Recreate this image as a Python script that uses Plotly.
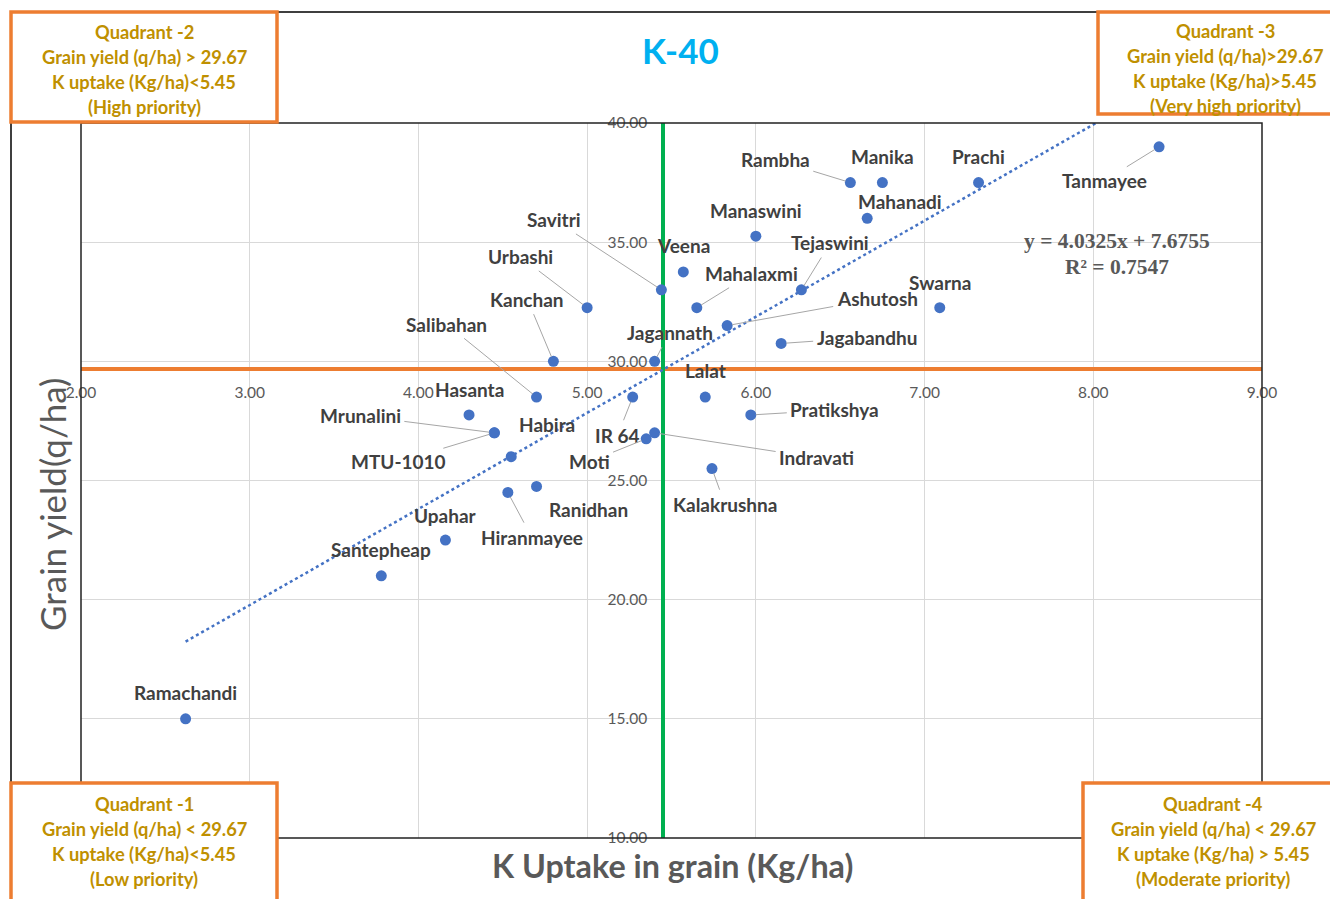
import plotly.graph_objects as go

# ---------------- data ----------------
varieties = ["Ramachandi", "Santepheap", "Upahar", "Hiranmayee", "Ranidhan", "Habira",
             "MTU-1010", "Mrunalini", "Hasanta", "Salibahan", "Kanchan", "Urbashi",
             "Savitri", "Veena", "Mahalaxmi", "Manaswini", "Jagannath", "Ashutosh",
             "Tejaswini", "Jagabandhu", "Rambha", "Manika", "Mahanadi", "Prachi",
             "Tanmayee", "Swarna", "Lalat", "IR 64", "Indravati", "Moti",
             "Pratikshya", "Kalakrushna"]
k_uptake = [2.62, 3.78, 4.16, 4.53, 4.70, 4.55,
            4.45, 4.45, 4.30, 4.70, 4.80, 5.00,
            5.44, 5.57, 5.65, 6.00, 5.40, 5.83,
            6.27, 6.15, 6.56, 6.75, 6.66, 7.32,
            8.39, 7.09, 5.70, 5.27, 5.40, 5.35,
            5.97, 5.74]
grain_yield = [15.0, 21.0, 22.5, 24.5, 24.75, 26.0,
               27.0, 27.0, 27.75, 28.5, 30.0, 32.25,
               33.0, 33.75, 32.25, 35.25, 30.0, 31.5,
               33.0, 30.75, 37.5, 37.5, 36.0, 37.5,
               39.0, 32.25, 28.5, 28.5, 27.0, 26.75,
               27.75, 25.5]

trend_slope = 4.0325
trend_intercept = 7.6755
r_squared = 0.7547
yield_threshold = 29.67
k_threshold = 5.45

x_ticks = [2, 3, 4, 5, 6, 7, 8, 9]
x_tick_labels = ["2.00", "3.00", "4.00", "5.00", "6.00", "7.00", "8.00", "9.00"]
y_ticks = [10, 15, 20, 25, 30, 35, 40]
y_tick_labels = ["10.00", "15.00", "20.00", "25.00", "30.00", "35.00", "40.00"]

quadrant_texts = {
    "Q2": ["Quadrant -2", "Grain yield (q/ha) > 29.67", "K uptake (Kg/ha)<5.45", "(High priority)"],
    "Q3": ["Quadrant -3", "Grain yield (q/ha)>29.67", "K uptake (Kg/ha)>5.45", "(Very high priority)"],
    "Q1": ["Quadrant -1", "Grain yield (q/ha) < 29.67", "K uptake (Kg/ha)<5.45", "(Low priority)"],
    "Q4": ["Quadrant -4", "Grain yield (q/ha) < 29.67", "K uptake (Kg/ha) > 5.45", "(Moderate priority)"],
}

# ---------------- layout / style (pixels) ----------------
OFF = 8                      # page body margin
W, H = 1338 - OFF, 899 - OFF
def px(x):
    return (x - OFF) / W
def py(y):
    return 1 - (y - OFF) / H

X0, X1 = 81, 1262      # plot area left/right in px (window coords)
Y0, Y1 = 123, 838      # plot area top/bottom in px (window coords)
xr = [2, 9]
yr = [10, 40]
xdom = [px(X0), px(X1)]
ydom = [py(Y1), py(Y0)]

label_offsets = {
    "Ramachandi": (0, -26), "Santepheap": (0, -26), "Upahar": (0, -25),
    "Hiranmayee": (24, 45), "Ranidhan": (52, 23), "Habira": (36, -32),
    "MTU-1010": (-96, 29), "Mrunalini": (-134, -17), "Hasanta": (0, -25),
    "Salibahan": (-90, -73), "Kanchan": (-26, -62), "Urbashi": (-67, -51),
    "Savitri": (-107, -70), "Veena": (0, -26), "Mahalaxmi": (55, -34),
    "Manaswini": (0, -26), "Jagannath": (15, -29), "Ashutosh": (150, -27),
    "Tejaswini": (29, -47), "Jagabandhu": (86, -6), "Rambha": (-75, -23),
    "Manika": (0, -26), "Mahanadi": (33, -17), "Prachi": (0, -26),
    "Tanmayee": (-55, 34), "Swarna": (0, -25), "Lalat": (0, -27),
    "IR 64": (-15, 38), "Indravati": (162, 25), "Moti": (-57, 23),
    "Pratikshya": (84, -5), "Kalakrushna": (13, 36),
}
with_leader = {"Hiranmayee", "MTU-1010", "Mrunalini", "Salibahan", "Kanchan", "Urbashi",
               "Savitri", "Mahalaxmi", "Jagannath", "Ashutosh", "Tejaswini", "Jagabandhu",
               "Rambha", "Tanmayee", "IR 64", "Indravati", "Moti", "Pratikshya", "Kalakrushna"}

LABEL_FONT = "Lato"
GOLD = "#BF9000"
ORANGE = "#ED7D31"
GREEN = "#00B050"
BLUE = "#4472C4"
GRAY = "#595959"

fig = go.Figure()

# trendline
tx = [min(k_uptake), max(k_uptake)]
ty = [trend_slope * v + trend_intercept for v in tx]
fig.add_trace(go.Scatter(x=tx, y=ty, mode="lines",
                         line=dict(color=BLUE, width=2.5, dash="dot"),
                         hoverinfo="skip", showlegend=False))

# points
fig.add_trace(go.Scatter(x=k_uptake, y=grain_yield, mode="markers",
                         marker=dict(color=BLUE, size=11),
                         text=varieties, showlegend=False))

annotations = []
for name, xv, yv in zip(varieties, k_uptake, grain_yield):
    ax, ay = label_offsets[name]
    annotations.append(dict(
        x=xv, y=yv, xref="x", yref="y", ax=ax, ay=ay, axref="pixel", ayref="pixel",
        text="<b>%s</b>" % name, showarrow=True, arrowhead=0, arrowwidth=1,
        arrowcolor="#A6A6A6" if name in with_leader else "rgba(0,0,0,0)",
        standoff=5, startstandoff=2,
        font=dict(family=LABEL_FONT, size=19, color="#404040")))

def paper_text(x, y, text, size, color, family=LABEL_FONT, angle=0):
    return dict(x=px(x), y=py(y), xref="paper", yref="paper", showarrow=False,
                xanchor="center", yanchor="middle", text=text, textangle=angle,
                font=dict(family=family, size=size, color=color))

# equation
annotations.append(paper_text(1117, 241, "<b>y = %.4fx + %.4f</b>" % (trend_slope, trend_intercept),
                              21.5, GRAY, "Liberation Serif"))
annotations.append(paper_text(1117, 267, "<b>R² = %.4f</b>" % r_squared, 21.5, GRAY, "Liberation Serif"))

# title and axis titles
annotations.append(paper_text(680, 50, "<b>K-40</b>", 35, "#00B0F0"))
annotations.append(paper_text(672, 865, "<b>K Uptake in grain (Kg/ha)</b>", 32.3, GRAY))
annotations.append(paper_text(52, 505, "Grain yield(q/ha)", 35, GRAY, angle=-90))

# quadrant boxes
boxes = {
    "Q2": ((11, 12, 277, 122), 144, 32),
    "Q3": ((1098, 12, 1348, 114), 1225, 31),
    "Q1": ((11, 783, 277, 910), 144, 804),
    "Q4": ((1083, 783, 1348, 910), 1213, 804),
}
shapes = []
# outer frame
shapes.append(dict(type="rect", xref="paper", yref="paper",
                   x0=px(11), x1=px(1350), y0=py(910), y1=py(12),
                   line=dict(color="#000000", width=1.5), layer="below"))
# plot area border
shapes.append(dict(type="rect", xref="x domain", yref="y domain", x0=0, x1=1, y0=0, y1=1,
                   line=dict(color="#222222", width=1.5), layer="above"))
for key, ((bx0, by0, bx1, by1), cx, ty0) in boxes.items():
    shapes.append(dict(type="rect", xref="paper", yref="paper",
                       x0=px(bx0), x1=px(bx1), y0=py(by1), y1=py(by0),
                       line=dict(color=ORANGE, width=3.5), fillcolor="white", layer="above"))
    for i, line in enumerate(quadrant_texts[key]):
        annotations.append(paper_text(cx, ty0 + 25 * i, "<b>%s</b>" % line, 18.3, GOLD))

xpos = ydom[0] + (yield_threshold - yr[0]) / (yr[1] - yr[0]) * (ydom[1] - ydom[0])
ypos = xdom[0] + (k_threshold - xr[0]) / (xr[1] - xr[0]) * (xdom[1] - xdom[0])

fig.update_layout(
    width=W, height=H, autosize=False,
    margin=dict(l=0, r=0, t=0, b=0, pad=0, autoexpand=False),
    paper_bgcolor="white", plot_bgcolor="white",
    showlegend=False,
    xaxis=dict(domain=xdom, range=xr, anchor="free", position=xpos, automargin=False,
               tickmode="array", tickvals=x_ticks, ticktext=x_tick_labels,
               showgrid=True, gridcolor="#D9D9D9", gridwidth=1, zeroline=False,
               showline=True, linecolor=ORANGE, linewidth=3.5,
               ticks="", ticklabelstandoff=8, layer="below traces",
               tickfont=dict(family=LABEL_FONT, size=15.5, color=GRAY)),
    yaxis=dict(domain=ydom, range=yr, anchor="free", position=ypos, automargin=False,
               tickmode="array", tickvals=y_ticks, ticktext=y_tick_labels,
               showgrid=True, gridcolor="#D9D9D9", gridwidth=1, zeroline=False,
               showline=True, linecolor=GREEN, linewidth=3.5,
               ticks="", ticklabelstandoff=11, layer="below traces",
               tickfont=dict(family=LABEL_FONT, size=15.5, color=GRAY)),
    shapes=shapes,
    annotations=annotations,
)

fig.write_html("out.html")
